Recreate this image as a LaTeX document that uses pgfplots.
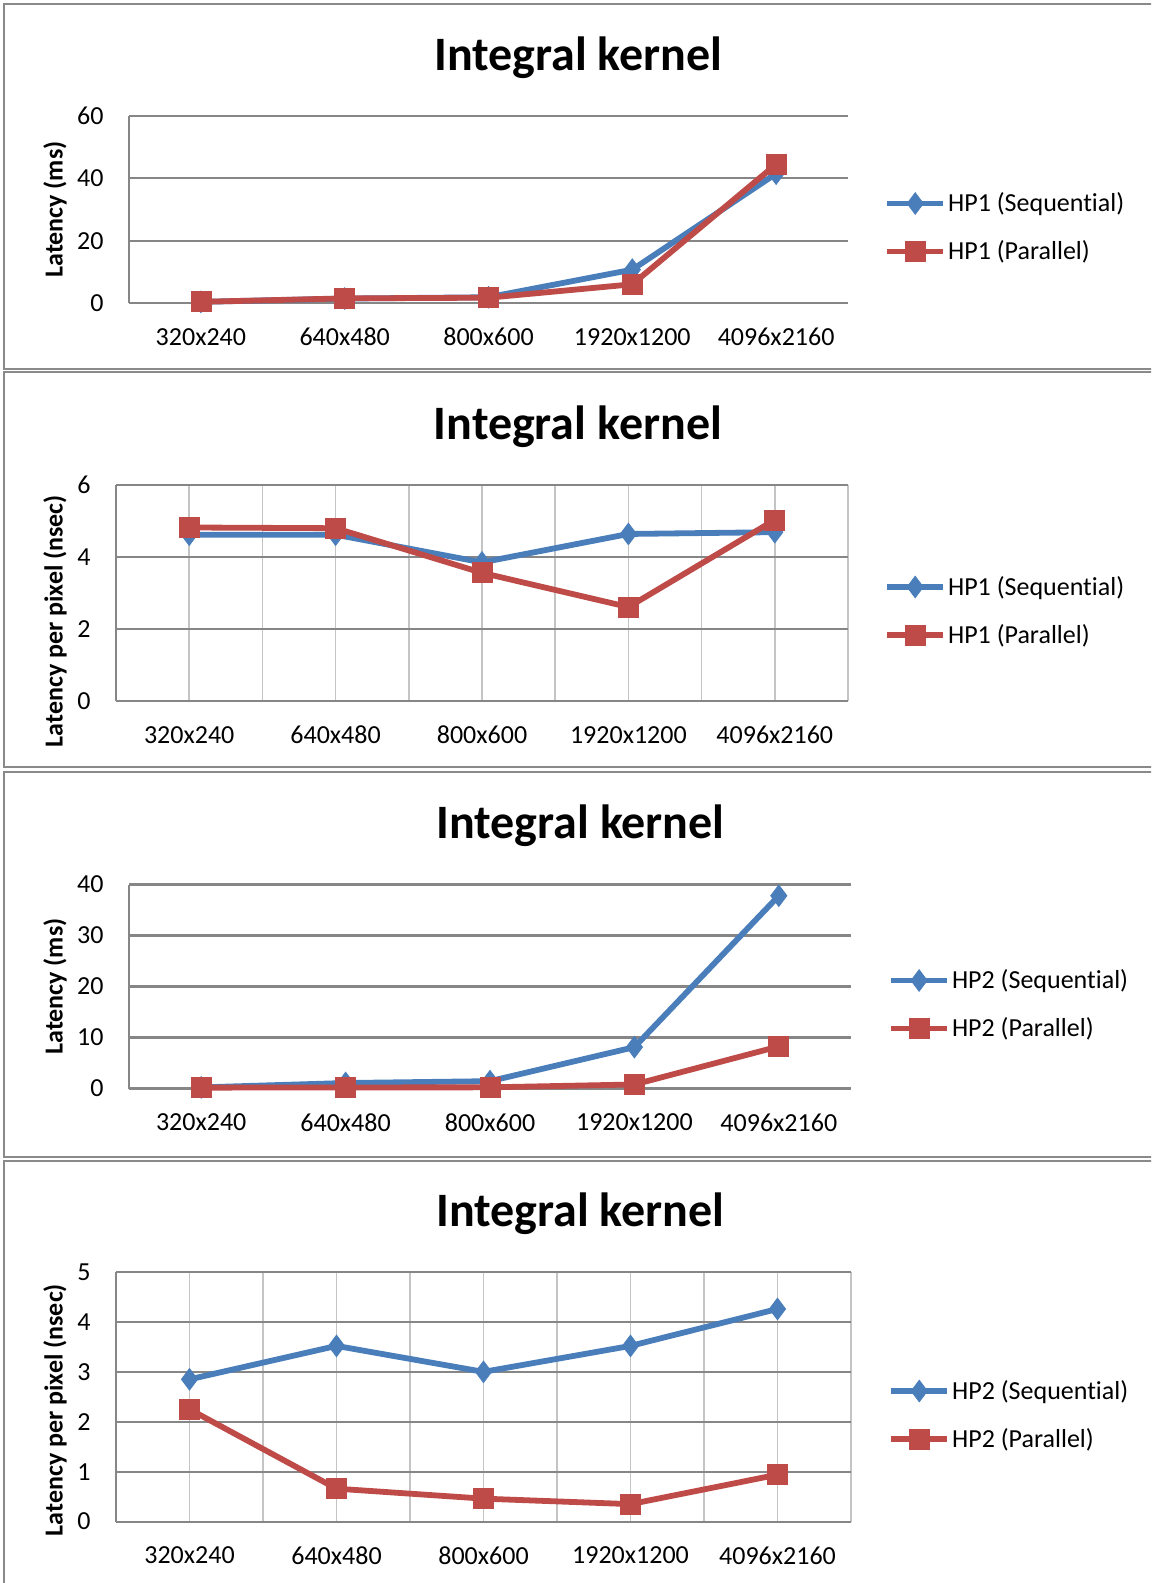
\documentclass[border=0pt]{standalone}
\usepackage{fontspec}
\setmainfont{Carlito}[Ligatures={NoCommon}]
\usepackage{pgfplots}
\pgfplotsset{compat=1.18}

\definecolor{seqblue}{HTML}{4A7EBB}
\definecolor{parred}{HTML}{BE4B48}
\definecolor{gridgray}{HTML}{868686}
\definecolor{vgrid}{HTML}{C4C4C4}
\definecolor{framegray}{HTML}{8A8A8A}

\pgfplotsset{
  kernel/.style={
    scale only axis,
    xmin=0, xmax=5,
    xtick={0.5,1.5,2.5,3.5,4.5},
    xticklabels={320x240,640x480,800x600,1920x1200,4096x2160},
    ymin=0,
    axis lines*=left,
    axis line style={-, draw=gridgray, line width=1.1pt},
    ymajorgrids,
    major grid style={draw=gridgray, line width=1.1pt},
    minor grid style={draw=vgrid, line width=0.8pt},
    major tick length=0pt, minor tick length=0pt,
    tick style={draw=none},
    /pgf/number format/assume math mode=true,
    tick label style={font=\fontsize{13}{15}\selectfont, inner sep=0pt},
    xticklabel style={anchor=center, yshift=-17pt},
    yticklabel style={anchor=east, xshift=-12.5pt},
    ylabel style={font=\bfseries\fontsize{13}{15}\selectfont, anchor=center},
    title style={font=\bfseries\fontsize{24}{28}\selectfont, anchor=center, yshift=23.2pt},
    legend style={draw=none, fill=none, inner sep=0pt, anchor=west,
      font=\fontsize{13}{15}\selectfont, row sep=12pt, column sep=1pt,
      nodes={inner sep=0pt, text height=10pt, text depth=2pt}},
    legend cell align=left,
    legend image code/.code={\draw[##1, mark repeat=2, mark phase=2]
      plot coordinates {(0pt,0pt) (14pt,0pt) (28pt,0pt)};},
    clip=false,
  },
  columngrid/.style={xminorgrids, minor xtick={0,0.5,1,1.5,2,2.5,3,3.5,4,4.5,5}},
  seq/.style={seqblue, line width=2.9pt, mark=diamond*, mark size=5.4pt,
    mark options={solid, line width=0.4pt, fill=seqblue}},
  par/.style={parred, line width=2.9pt, mark=square*, mark size=5pt,
    mark options={solid, line width=0.4pt, fill=parred}},
}

\begin{document}
\begin{tikzpicture}
\useasboundingbox (0pt,0pt) rectangle (575.5pt,-791.5pt);
\clip (0pt,0pt) rectangle (575.5pt,-791.5pt);

% chart frames
\draw[framegray, line width=1.3pt] (580pt,-2pt) -- (2pt,-2pt) -- (2pt,-184.5pt) -- (580pt,-184.5pt);
\draw[framegray, line width=1.3pt] (580pt,-186pt) -- (2pt,-186pt) -- (2pt,-383.5pt) -- (580pt,-383.5pt);
\draw[framegray, line width=1.3pt] (580pt,-386pt) -- (2pt,-386pt) -- (2pt,-578.5pt) -- (580pt,-578.5pt);
\draw[framegray, line width=1.3pt] (580pt,-580.5pt) -- (2pt,-580.5pt) -- (2pt,-800pt);

% HP1 latency
\begin{axis}[kernel,
  at={(64.5pt,-151.5pt)}, anchor=south west,
  width=359.5pt, height=93.5pt,
  ymax=60, ytick={0,20,40,60},
  title={Integral kernel}, title style={at={(axis description cs:0.625,1)}},
  ylabel={Latency (ms)}, ylabel style={at={(axis description cs:-0.103,0.5)}},
  legend style={at={(axis description cs:1.050,0.4037)}},
]
\addplot[seq] coordinates {(0.5,0.36) (1.5,1.42) (2.5,1.85) (3.5,10.7) (4.5,41.5)};
\addplot[par] coordinates {(0.5,0.37) (1.5,1.48) (2.5,1.70) (3.5,6.0) (4.5,44.5)};
\legend{HP1 (Sequential), HP1 (Parallel)}
\end{axis}

% HP1 latency per pixel
\begin{axis}[kernel, columngrid,
  at={(58pt,-350.5pt)}, anchor=south west,
  width=366pt, height=108pt,
  ymax=6, ytick={0,2,4,6},
  title={Integral kernel}, title style={at={(axis description cs:0.631,1)}},
  ylabel={Latency per pixel (nsec)}, ylabel style={at={(axis description cs:-0.0833,0.37)}},
  legend style={at={(axis description cs:1.049,0.4167)}},
]
\addplot[seq] coordinates {(0.5,4.62) (1.5,4.62) (2.5,3.85) (3.5,4.64) (4.5,4.69)};
\addplot[par] coordinates {(0.5,4.82) (1.5,4.80) (2.5,3.56) (3.5,2.61) (4.5,5.03)};
\legend{HP1 (Sequential), HP1 (Parallel)}
\end{axis}

% HP2 latency
\begin{axis}[kernel,
  at={(64.5pt,-544.25pt)}, anchor=south west,
  width=361pt, height=102pt,
  ymax=40, ytick={0,10,20,30,40},
  title={Integral kernel}, title style={at={(axis description cs:0.6255,1)}},
  ylabel={Latency (ms)}, ylabel style={at={(axis description cs:-0.1025,0.5)}},
  legend style={at={(axis description cs:1.051,0.4118)}},
]
\addplot[seq] coordinates {(0.5,0.22) (1.5,1.08) (2.5,1.44) (3.5,8.11) (4.5,37.8)};
\addplot[par] coordinates {(0.5,0.17) (1.5,0.21) (2.5,0.23) (3.5,0.79) (4.5,8.25)};
\legend{HP2 (Sequential), HP2 (Parallel)}
\end{axis}

% HP2 latency per pixel
\begin{axis}[kernel, columngrid,
  at={(58pt,-760.8pt)}, anchor=south west,
  width=367.5pt, height=124.8pt,
  ymax=5, ytick={0,1,2,3,4,5},
  title={Integral kernel}, title style={at={(axis description cs:0.632,1)}},
  ylabel={Latency per pixel (nsec)}, ylabel style={at={(axis description cs:-0.083,0.447)}},
  legend style={at={(axis description cs:1.0503,0.427)}},
]
\addplot[seq] coordinates {(0.5,2.85) (1.5,3.52) (2.5,3.0) (3.5,3.52) (4.5,4.26)};
\addplot[par] coordinates {(0.5,2.25) (1.5,0.66) (2.5,0.46) (3.5,0.35) (4.5,0.94)};
\legend{HP2 (Sequential), HP2 (Parallel)}
\end{axis}
\end{tikzpicture}
\end{document}
